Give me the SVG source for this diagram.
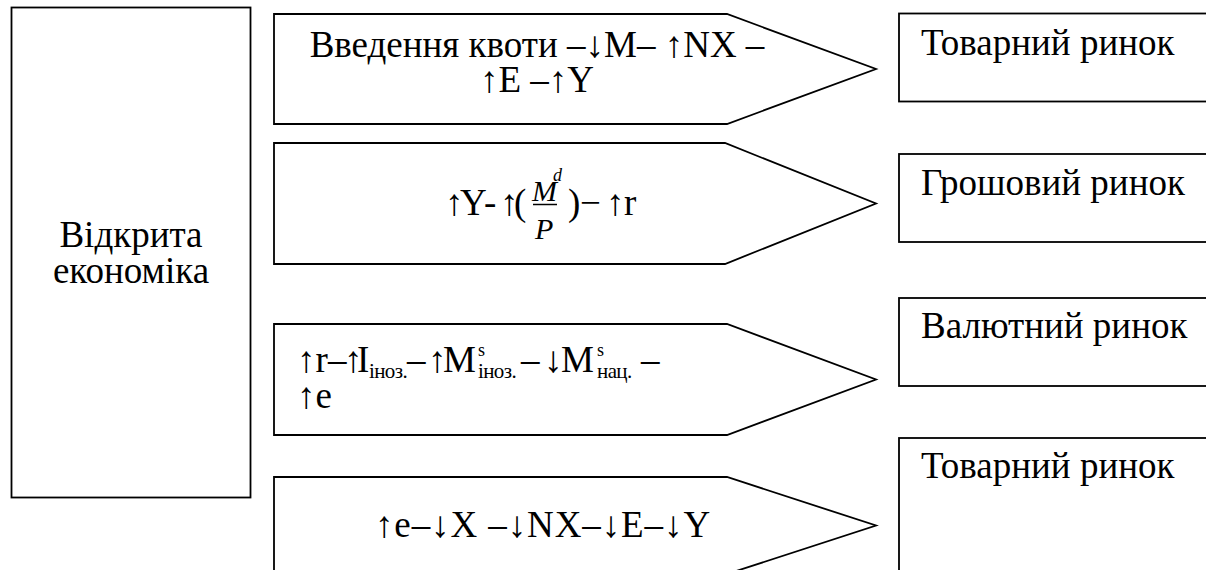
<svg xmlns="http://www.w3.org/2000/svg" width="1206" height="570" viewBox="0 0 1206 570" font-family="Liberation Serif, serif">
<style>
.shape{fill:#fff;stroke:#000;stroke-width:1.8}
text{font-family:'Liberation Serif',serif;font-size:37px;fill:#000}
.c{text-anchor:middle}
.it{font-style:italic}
.fr{font-size:30px}
.sub{font-size:21px;letter-spacing:-0.6px}
.sup{font-size:18px}
</style>
<rect width="1206" height="570" fill="#fff"/>
<g id="connectors"></g>
<g id="node-open-economy">
<rect class="shape" x="11.5" y="7.5" width="239" height="490"/>
<text class="c" x="131" y="247">Відкрита</text>
<text class="c" x="131" y="283">економіка</text>
</g>
<g id="node-step1">
<polygon class="shape" points="274,14 727,14 876,69 727,124 274,124"/>
<text class="c" x="537" y="57">Введення квоти –↓M– ↑NX –</text>
<text class="c" x="537" y="92">↑E  –↑Y</text>
</g>
<g id="node-step2">
<polygon class="shape" points="274,143 725,143 876,203.5 725,264 274,264"/>
<text y="215"><tspan x="445">↑</tspan><tspan x="460">Y</tspan><tspan x="484">-</tspan><tspan x="500">↑</tspan><tspan x="514">(</tspan><tspan class="it fr" x="532" y="201">M</tspan><tspan class="it sup" x="553" y="181">d</tspan><tspan class="it fr" x="535" y="239">P</tspan><tspan x="568" y="215">)</tspan><tspan x="580">−</tspan><tspan x="606">↑</tspan><tspan x="624">r</tspan></text>
<line x1="533" y1="204.5" x2="557" y2="204.5" stroke="#000" stroke-width="1.5"/>
</g>
<g id="node-step3">
<polygon class="shape" points="274,324 727,324 876,379.5 727,435 274,435"/>
<text y="372"><tspan x="297">↑r</tspan><tspan x="328">–</tspan><tspan x="344">↑</tspan><tspan x="357">I</tspan><tspan class="sub" x="369" y="378">іноз.</tspan><tspan x="407" y="372">–</tspan><tspan x="428">↑</tspan><tspan x="443">M</tspan><tspan class="sup" x="478" y="356">s</tspan><tspan class="sub" x="478" y="378">іноз.</tspan><tspan x="521" y="372">–</tspan><tspan x="544">↓</tspan><tspan x="561">M</tspan><tspan class="sup" x="597" y="356">s</tspan><tspan class="sub" x="597" y="378">нац.</tspan><tspan x="641" y="372">–</tspan></text>
<text x="297" y="408">↑e</text>
</g>
<g id="node-step4">
<polygon class="shape" points="274,477 727,477 876,525.5 727,574 274,574"/>
<text class="c" x="543" y="537" letter-spacing="0.9">↑e–↓X –↓NX–↓E–↓Y</text>
</g>
<g id="node-market1">
<rect class="shape" x="899" y="13.5" width="320" height="88"/>
<text x="921" y="55">Товарний ринок</text>
</g>
<g id="node-market2">
<rect class="shape" x="899" y="154" width="320" height="88"/>
<text x="921" y="195">Грошовий ринок</text>
</g>
<g id="node-market3">
<rect class="shape" x="899" y="298" width="320" height="88"/>
<text x="921" y="338">Валютний ринок</text>
</g>
<g id="node-market4">
<rect class="shape" x="899" y="438" width="320" height="150"/>
<text x="921" y="478">Товарний ринок</text>
</g>
</svg>
